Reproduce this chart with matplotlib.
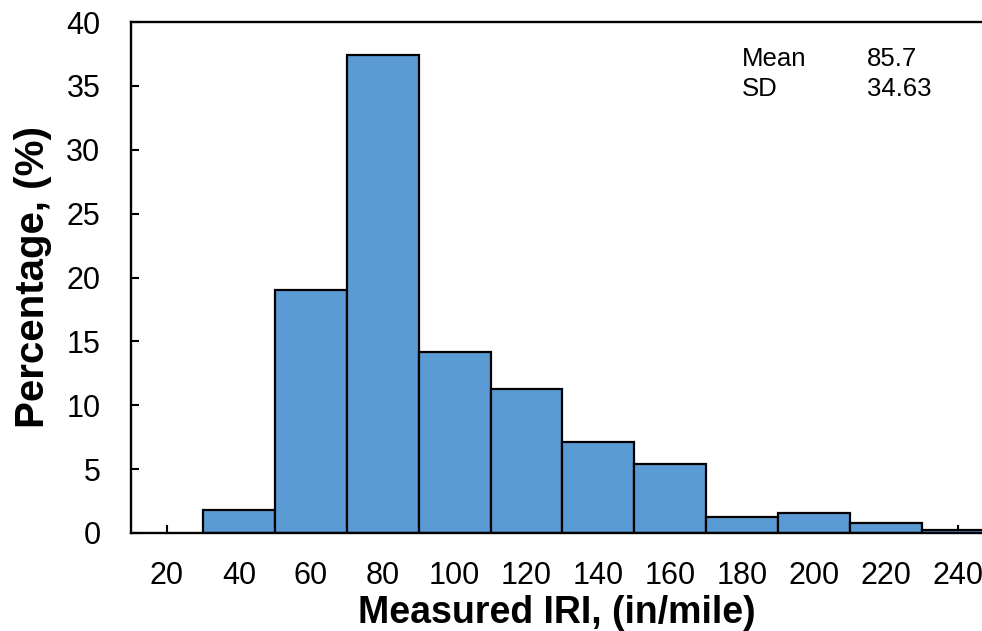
import matplotlib
matplotlib.use("Agg")
import matplotlib.pyplot as plt

plt.rcParams['font.family'] = ['Liberation Sans', 'DejaVu Sans']

# Histogram bins (bin centres, in/mile) and share of sections in each bin (%)
bin_centers = [40, 60, 80, 100, 120, 140, 160, 180, 200, 220, 240]
percentages = [1.8, 19.0, 37.4, 14.15, 11.25, 7.1, 5.4, 1.28, 1.59, 0.76, 0.23]
bin_width = 20
x_ticks = [20, 40, 60, 80, 100, 120, 140, 160, 180, 200, 220, 240]
y_ticks = [0, 5, 10, 15, 20, 25, 30, 35, 40]
stats_names = ["Mean", "SD"]
stats_values = ["85.7", "34.63"]

fig = plt.figure(figsize=(9.82, 6.31), dpi=100)
ax = fig.add_axes([131 / 982, 1 - 533 / 631, 1 - 131 / 982, (533 - 22) / 631])

ax.bar(bin_centers, percentages, width=bin_width, color="#5B9BD5",
       edgecolor="black", linewidth=1.6, zorder=2)

ax.set_xlim(10, 246.7)
ax.set_ylim(0, 40)
ax.set_xticks(x_ticks)
ax.set_yticks(y_ticks)

for side in ["left", "bottom", "top"]:
    ax.spines[side].set_linewidth(1.7)
ax.spines["right"].set_visible(False)

ax.tick_params(axis="both", direction="in", length=6, width=1.5,
               labelsize=22, colors="black")
ax.tick_params(axis="x", pad=20)
ax.tick_params(axis="y", pad=22)

ax.set_xlabel("Measured IRI, (in/mile)", fontsize=27, fontweight="bold", labelpad=3)
ax.set_ylabel("Percentage, (%)", fontsize=29, fontweight="bold", labelpad=10)

for i, (name, val) in enumerate(zip(stats_names, stats_values)):
    y = 0.927 - i * 0.058
    ax.text((742 - 131) / 851, y, name, transform=ax.transAxes,
            fontsize=18.5, va="center", ha="left")
    ax.text((867 - 131) / 851, y, val, transform=ax.transAxes,
            fontsize=18.5, va="center", ha="left")

fig.savefig("out.png", dpi=100)
